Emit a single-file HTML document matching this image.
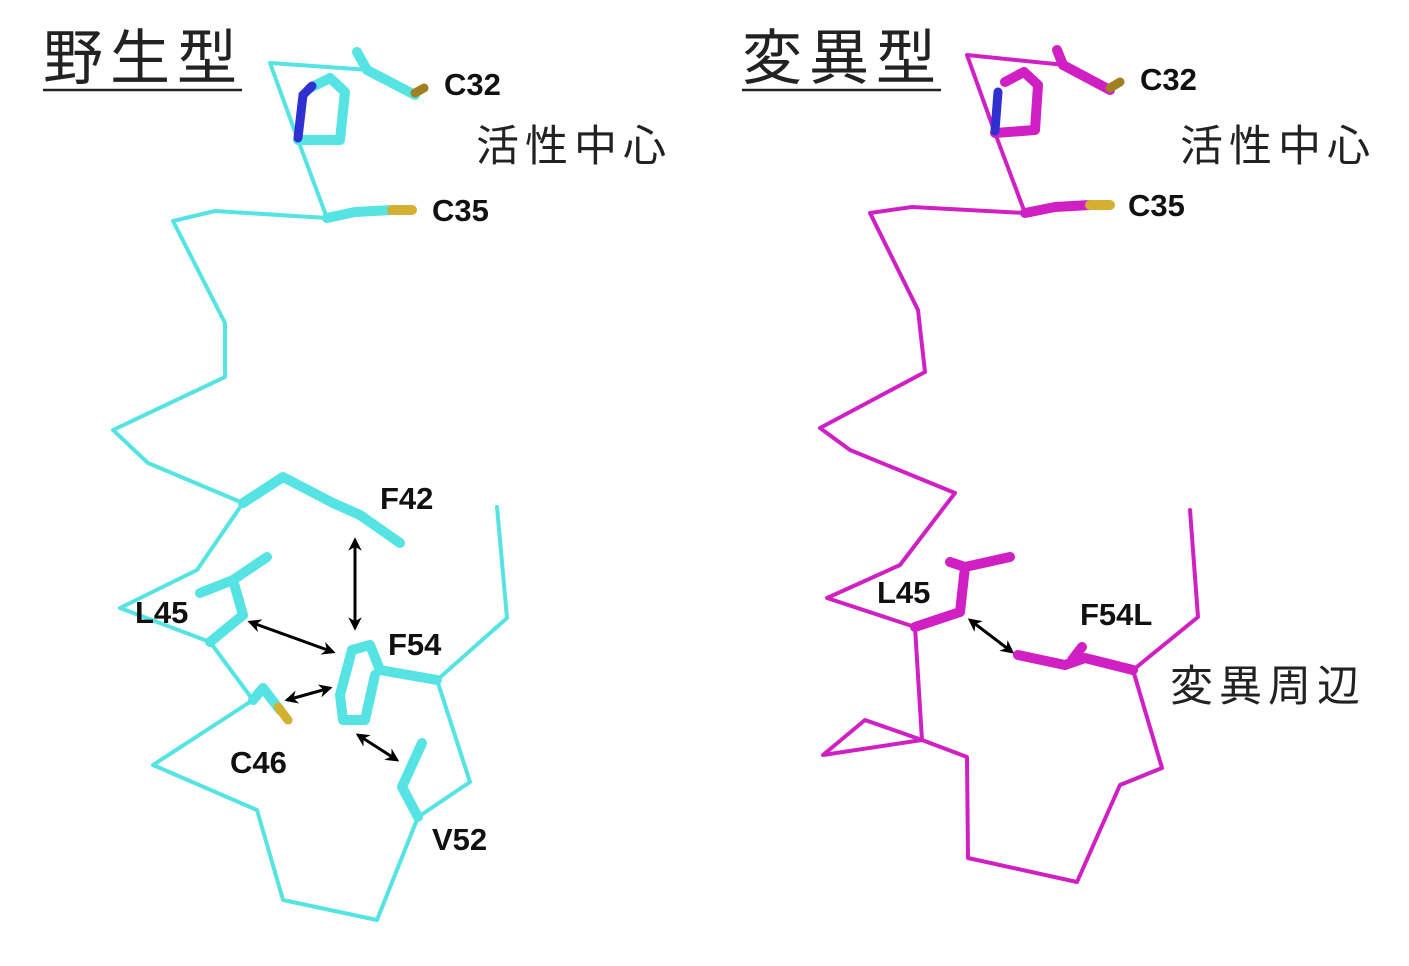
<!DOCTYPE html>
<html><head><meta charset="utf-8"><style>
body{margin:0;background:#fff;}
svg{display:block}
.lb{font-family:"Liberation Sans",sans-serif;font-weight:bold;font-size:31px;fill:#111;}
.jp{font-family:"Liberation Sans","Noto Sans CJK JP",sans-serif;font-size:43px;fill:#222;letter-spacing:6px;}
.ti{font-family:"Liberation Sans","Noto Sans CJK JP",sans-serif;font-size:60px;fill:#222;letter-spacing:7px;}
</style></head><body>
<svg width="1409" height="966" viewBox="0 0 1409 966" xmlns="http://www.w3.org/2000/svg">
<defs>
<marker id="ah" viewBox="0 0 10 10" refX="8" refY="5" markerWidth="4.5" markerHeight="4.5" orient="auto-start-reverse"><path d="M0,0 L10,5 L0,10 L3,5z" fill="#000"/></marker>
</defs>
<text class="ti" x="43" y="79">野生型</text>
<line x1="43" y1="90" x2="242" y2="90" stroke="#222" stroke-width="2.5"/>
<text class="ti" x="742" y="79">変異型</text>
<line x1="742" y1="90" x2="941" y2="90" stroke="#222" stroke-width="2.5"/>

<g fill="none" stroke="#55e3e3" stroke-linejoin="round" stroke-linecap="round">
<polyline stroke-width="4" points="370,70 270,63 298,140 327,218 215,211 173,221 225,323 225,377 113,430 148,463 243,503"/>
<polyline stroke-width="4" points="243,503 197,570 120,608 210,642 253,700 153,765 257,810 283,900 377,920 418,817 470,782 437,680 507,618 497,507"/>
<g stroke-width="10">
<polyline points="243,503 283,477 333,503 360,515 400,543"/>
<polyline points="210,642 243,615 233,580 267,557"/>
<line x1="233" y1="580" x2="200" y2="593"/>
<polyline points="253,700 263,688 280,710"/>
<polyline points="437,680 380,670 370,645 352,650 340,695 343,720 365,720 375,675"/>
<polyline points="418,817 402,787 422,743"/>
<polyline points="367,70 415,95"/>
<line x1="367" y1="70" x2="357" y2="52"/>
<polyline points="298,140 340,140 345,92 330,78 310,88"/>
<polyline points="327,218 355,212 392,210"/>
</g>
<line x1="298" y1="138" x2="303" y2="95" stroke="#3030d0" stroke-width="9"/>
<line x1="303" y1="95" x2="312" y2="86" stroke="#3030d0" stroke-width="9"/>
<line x1="392" y1="210" x2="412" y2="210" stroke="#d4b030" stroke-width="10"/>
<line x1="415" y1="93" x2="424" y2="88" stroke="#a08020" stroke-width="9"/>
<line x1="278" y1="707" x2="288" y2="720" stroke="#d4b030" stroke-width="9"/>
</g>
<g stroke="#000" stroke-width="3" marker-start="url(#ah)" marker-end="url(#ah)">
<line x1="355" y1="540" x2="355" y2="628"/>
<line x1="250" y1="622" x2="333" y2="652"/>
<line x1="287" y1="700" x2="330" y2="688"/>
<line x1="358" y1="735" x2="397" y2="760"/>
</g>
<text class="lb" x="444" y="95">C32</text>
<text class="jp" x="476" y="161">活性中心</text>
<text class="lb" x="432" y="221">C35</text>
<text class="lb" x="380" y="509">F42</text>
<text class="lb" x="135" y="623">L45</text>
<text class="lb" x="388" y="655">F54</text>
<text class="lb" x="230" y="773">C46</text>
<text class="lb" x="432" y="850">V52</text>

<g fill="none" stroke="#d020c4" stroke-linejoin="round" stroke-linecap="round">
<polyline stroke-width="4" points="1065,65 967,55 995,133 1025,213 912,207 870,213 918,310 925,372 820,428 850,450 955,493 900,565 827,598 915,627 922,740 865,720 823,755 922,740 967,757 968,858 1077,882 1120,785 1162,768 1133,670 1198,617 1190,510"/>
<g stroke-width="10">
<polyline points="915,627 960,612 965,567 1010,557"/>
<line x1="965" y1="567" x2="950" y2="562"/>
<polyline points="1133,670 1085,658 1065,665 1018,655"/>
<line x1="1072" y1="660" x2="1082" y2="647"/>
<polyline points="1063,65 1110,90"/>
<line x1="1063" y1="65" x2="1057" y2="50"/>
<polyline points="995,133 1035,130 1038,85 1024,72 1005,82"/>
<polyline points="1025,213 1055,207 1090,205"/>
</g>
<line x1="995" y1="131" x2="998" y2="92" stroke="#3030d0" stroke-width="9"/>
<line x1="1090" y1="205" x2="1110" y2="205" stroke="#d4b030" stroke-width="10"/>
<line x1="1110" y1="88" x2="1120" y2="82" stroke="#a08020" stroke-width="9"/>
</g>
<line x1="970" y1="620" x2="1012" y2="652" stroke="#000" stroke-width="3" marker-start="url(#ah)" marker-end="url(#ah)"/>
<text class="lb" x="1140" y="90">C32</text>
<text class="jp" x="1180" y="161">活性中心</text>
<text class="lb" x="1128" y="216">C35</text>
<text class="lb" x="877" y="603">L45</text>
<text class="lb" x="1080" y="625">F54L</text>
<text class="jp" x="1170" y="701">変異周辺</text>
</svg>
</body></html>
